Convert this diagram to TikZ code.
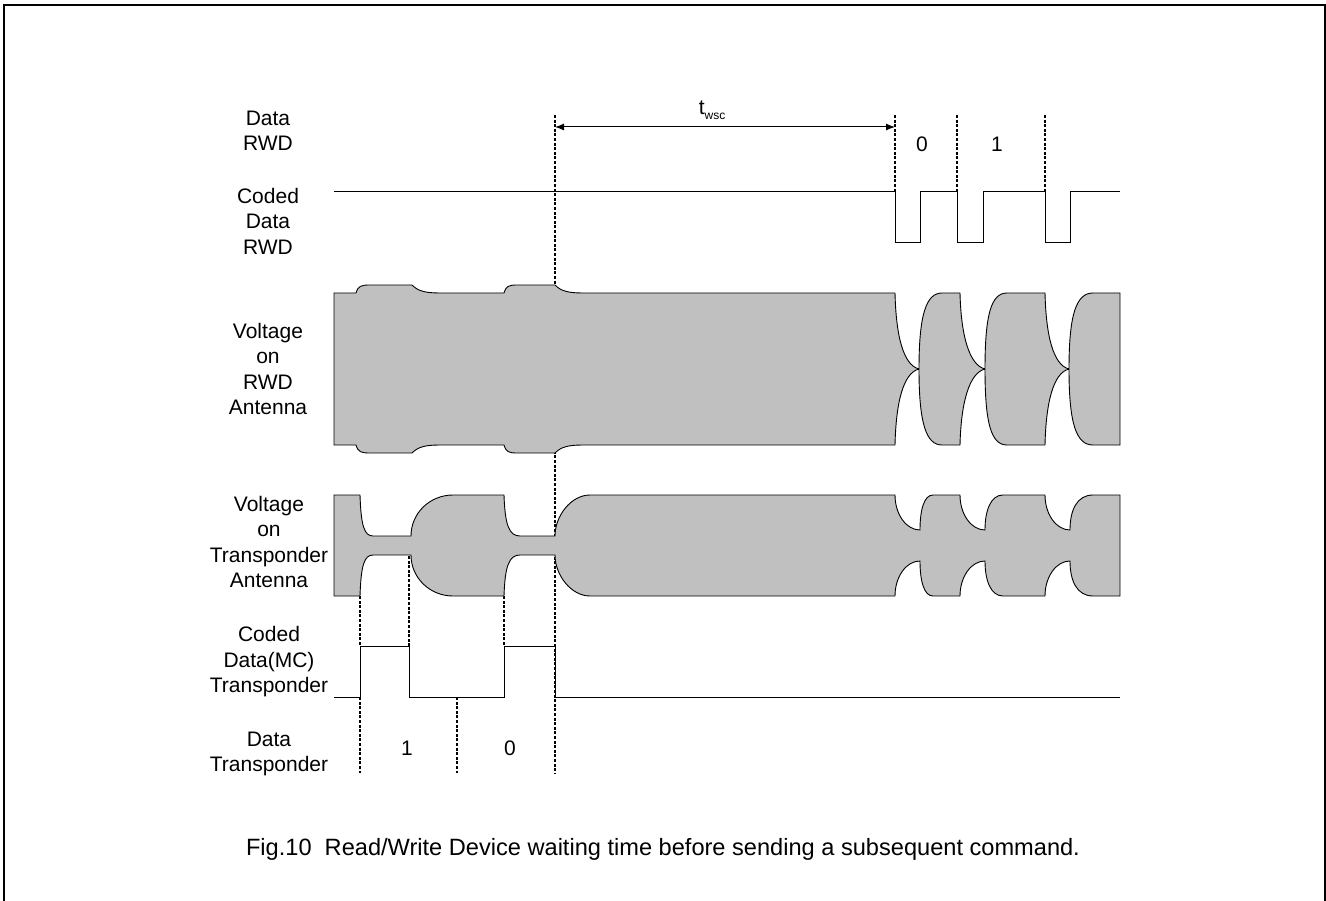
\documentclass[tikz,border=0pt]{standalone}
\usepackage{fontspec}
\setmainfont{Liberation Sans}
\usepackage{xcolor}
\usetikzlibrary{arrows.meta}
\definecolor{envgray}{RGB}{192,192,192}

\begin{document}
\begin{tikzpicture}[x=1pt,y=-1pt,
        lbl/.style={align=center,font=\fontsize{21}{25.5}\selectfont},
        sig/.style={line width=1pt},
        env/.style={fill=envgray,draw=black,line width=0.9pt},
        guide/.style={line width=1.3pt,dash pattern=on 3pt off 1.6pt}]
        \useasboundingbox (0,0) rectangle (1326,901);
        \draw[line width=2.5pt] (4,905) -- (4,5) -- (1325,5) -- (1325,905);

        \node[lbl] (datarwd) at (268,131) {Data\\RWD};
        \node[lbl] (codedrwd) at (268,221) {Coded\\Data\\RWD};
        \node[lbl] (vrwd) at (268,369) {Voltage\\on\\RWD\\Antenna};
        \node[lbl] (vtr) at (269,542) {Voltage\\on\\Transponder\\Antenna};
        \node[lbl] (codedtr) at (269,662) {Coded\\Data(MC)\\Transponder};
        \node[lbl] (datatr) at (269,754) {Data\\Transponder};
        \node[lbl] (bit0) at (922,144) {0};
        \node[lbl] (bit1) at (997,144) {1};
        \node[lbl] (tbit1) at (407,748) {1};
        \node[lbl] (tbit0) at (510,748) {0};
        \node[lbl] (twsc) at (712,110) {t\raisebox{-0.45ex}{\fontsize{12}{12}\selectfont wsc}};
        \node[lbl,font=\fontsize{23.6}{28}\selectfont] (caption) at (663,849) {Fig.10\ \ Read/Write Device waiting time before sending a subsequent command.};

        \draw[guide] (555,115) -- (555,773);
        \draw[guide] (895,115) -- (895,192);
        \draw[guide] (957,115) -- (957,192);
        \draw[guide] (1045,115) -- (1045,192);
        \draw[guide] (360,596) -- (360,646);
        \draw[guide] (360,697) -- (360,773);
        \draw[guide] (409,556) -- (409,646);
        \draw[guide] (457,697) -- (457,773);
        \draw[guide] (504,596) -- (504,646);

        \coordinate (ws) at (555,127);
        \coordinate (we) at (895,127);
        \draw[sig,{Latex[length=9pt,width=7pt]}-{Latex[length=9pt,width=7pt]}] (ws) -- (we);

        \draw[sig] (334,192) -- (895,192) -- (895,243) -- (920,243) -- (920,192)
            -- (957,192) -- (957,243) -- (983,243) -- (983,192)
            -- (1045,192) -- (1045,243) -- (1070,243) -- (1070,192) -- (1120,192);

        \draw[env] (334,293) -- (356,293) .. controls (358,286) and (361,285) .. (370,285)
            -- (412,285) .. controls (418,291) and (425,293) .. (440,293)
            -- (504,293) .. controls (506,286) and (509,285) .. (517,285)
            -- (555,285) .. controls (561,291) and (568,293) .. (583,293)
            -- (895,293) .. controls (896,335) and (903,365) .. (919,369)
            .. controls (919,315) and (926,293) .. (942,293)
            -- (960,293) .. controls (961,335) and (969,365) .. (985,369)
            .. controls (985,315) and (991,293) .. (1007,293)
            -- (1045,293) .. controls (1046,335) and (1053,365) .. (1069,369)
            .. controls (1069,315) and (1076,293) .. (1093,293)
            -- (1120,293) -- (1120,445)
            -- (1093,445) .. controls (1076,445) and (1069,423) .. (1069,369)
            .. controls (1053,373) and (1046,403) .. (1045,445)
            -- (1007,445) .. controls (991,445) and (985,423) .. (985,369)
            .. controls (969,373) and (961,403) .. (960,445)
            -- (942,445) .. controls (926,445) and (919,423) .. (919,369)
            .. controls (903,373) and (896,403) .. (895,445)
            -- (583,445) .. controls (568,445) and (561,447) .. (555,453)
            -- (517,453) .. controls (509,453) and (506,452) .. (504,445)
            -- (440,445) .. controls (425,445) and (418,447) .. (412,453)
            -- (370,453) .. controls (361,453) and (358,452) .. (356,445)
            -- (334,445) -- cycle;

        \draw[env] (334,495) -- (360,495) .. controls (361,525) and (364,536) .. (373,536)
            -- (411,536) .. controls (411,513) and (430,495) .. (453,495)
            -- (504,495) .. controls (505,525) and (509,536) .. (520,536)
            -- (555,536) .. controls (555,516) and (571,495) .. (590,495)
            -- (895,495) .. controls (895,514) and (906,530) .. (920,530)
            .. controls (920,510) and (924,495) .. (933,495)
            -- (960,495) .. controls (960,514) and (971,530) .. (985,530)
            .. controls (985,510) and (991,495) .. (1003,495)
            -- (1045,495) .. controls (1045,514) and (1056,530) .. (1070,530)
            .. controls (1070,510) and (1077,495) .. (1093,495)
            -- (1120,495) -- (1120,596)
            -- (1093,596) .. controls (1077,596) and (1070,581) .. (1070,561)
            .. controls (1056,561) and (1045,577) .. (1045,596)
            -- (1003,596) .. controls (991,596) and (985,581) .. (985,561)
            .. controls (971,561) and (960,577) .. (960,596)
            -- (933,596) .. controls (924,596) and (920,581) .. (920,561)
            .. controls (906,561) and (895,577) .. (895,596)
            -- (590,596) .. controls (571,596) and (555,575) .. (555,555)
            -- (520,555) .. controls (509,555) and (505,566) .. (504,596)
            -- (453,596) .. controls (430,596) and (411,578) .. (411,555)
            -- (373,555) .. controls (364,555) and (361,566) .. (360,596)
            -- (334,596) -- cycle;

        \draw[sig] (334,697) -- (360,697) -- (360,646) -- (409,646) -- (409,697)
            -- (504,697) -- (504,646) -- (555,646) -- (555,697) -- (1120,697);
\end{tikzpicture}
\end{document}
